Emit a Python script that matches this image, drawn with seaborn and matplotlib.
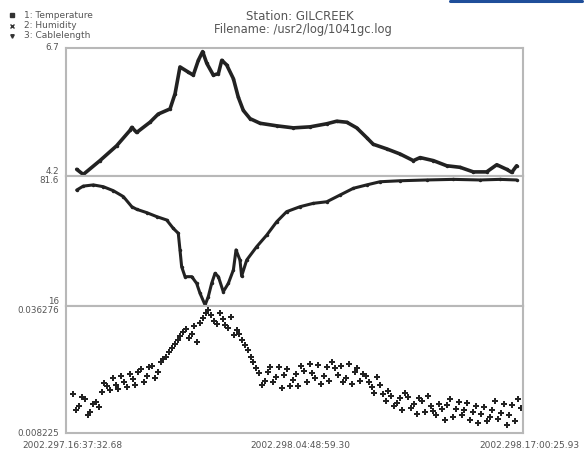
import numpy as np
import pandas as pd
import matplotlib
matplotlib.use('Agg')
import matplotlib.pyplot as plt
import matplotlib.transforms as mtransforms
import seaborn as sns

# -----------------------------
# Data (hours after 2002.297.16:37:32.68)
# -----------------------------

temp_hours = [0.57, 0.92, 1.81, 2.70, 3.41, 3.51, 3.77, 4.48, 4.92, 5.55, 5.82, 6.08,
              6.52, 6.79, 7.06, 7.29, 7.51, 7.86, 8.13, 8.31, 8.57, 8.93, 9.19, 9.46,
              9.82, 10.35, 11.24, 12.13, 13.02, 13.91, 14.44, 14.98, 15.51, 16.04, 16.39,
              17.11, 17.82, 18.53, 18.89, 19.60, 20.31, 21.02, 21.73, 22.44, 22.98,
              23.51, 23.78, 24.04]
temperature = [4.33, 4.23, 4.50, 4.79, 5.09, 5.15, 5.05, 5.25, 5.41, 5.51, 5.81, 6.33,
               6.23, 6.17, 6.46, 6.63, 6.40, 6.17, 6.20, 6.46, 6.37, 6.10, 5.74, 5.48,
               5.32, 5.23, 5.18, 5.14, 5.16, 5.22, 5.27, 5.25, 5.14, 4.95, 4.82,
               4.73, 4.63, 4.50, 4.56, 4.50, 4.40, 4.37, 4.28, 4.28, 4.42,
               4.33, 4.27, 4.40]

hum_hours = [0.57, 0.92, 1.46, 1.99, 2.52, 3.06, 3.51, 3.77, 4.31, 4.84, 5.37, 5.72,
             5.99, 6.08, 6.17, 6.35, 6.71, 6.97, 7.15, 7.42, 7.59, 7.77, 7.95, 8.13,
             8.39, 8.66, 8.93, 9.07, 9.28, 9.37, 9.64, 10.17, 10.71, 11.24, 11.77,
             12.48, 13.19, 13.91, 14.62, 15.33, 16.04, 16.75, 17.82, 19.24, 20.66,
             22.09, 23.15, 24.04]
humidity = [74.5, 76.5, 77.1, 76.2, 74.2, 71.2, 66.1, 64.8, 63.1, 61.1, 59.4, 55.2,
            52.7, 44.3, 35.8, 30.8, 30.8, 27.4, 22.4, 16.5, 20.7, 27.4, 32.5, 30.8,
            23.2, 27.4, 34.2, 44.3, 39.2, 31.1, 39.2, 45.9, 51.8, 58.5, 63.6,
            66.1, 67.8, 68.6, 72.0, 75.4, 77.1, 78.7, 79.2, 79.6, 79.9,
            79.6, 79.9, 79.6]

cable_hours_a = [0.4, 0.7, 1.0, 1.3, 1.6, 1.9, 2.2, 2.5, 2.8, 3.1, 3.4, 3.7, 4.0, 4.3,
                 4.6, 4.9, 5.2, 5.5, 5.8, 6.1, 6.4, 6.7, 7.0, 7.3, 7.6, 7.9, 8.2, 8.5,
                 8.8, 9.1, 9.4, 9.7, 10.0, 10.3, 10.6, 10.9, 11.2, 11.5, 11.8, 12.1,
                 12.4, 12.7, 13.0, 13.3, 13.6, 13.9, 14.2, 14.5, 14.8, 15.1, 15.4, 15.7,
                 16.0, 16.3, 16.6, 16.9, 17.2, 17.5, 17.8, 18.1, 18.4, 18.7, 19.0, 19.3,
                 19.6, 19.9, 20.2, 20.5, 20.8, 21.1, 21.4, 21.7, 22.0, 22.3, 22.6, 22.9,
                 23.2, 23.5, 23.8, 24.1]
cablelength_a = [0.0168, 0.0141, 0.0158, 0.0129, 0.0150, 0.0172, 0.0185, 0.0203, 0.0179,
                 0.0196, 0.0212, 0.0188, 0.0224, 0.0209, 0.0231, 0.0218, 0.0246, 0.0262,
                 0.0279, 0.0297, 0.0312, 0.0301, 0.0284, 0.0336, 0.0355, 0.0330, 0.0347,
                 0.0321, 0.0338, 0.0309, 0.0288, 0.0265, 0.0238, 0.0215, 0.0197, 0.0229,
                 0.0206, 0.0181, 0.0224, 0.0199, 0.0186, 0.0220, 0.0234, 0.0203, 0.0190,
                 0.0228, 0.0239, 0.0211, 0.0196, 0.0235, 0.0218, 0.0197, 0.0209, 0.0183,
                 0.0205, 0.0168, 0.0176, 0.0142, 0.0159, 0.0171, 0.0138, 0.0125, 0.0153,
                 0.0164, 0.0131, 0.0147, 0.0112, 0.0158, 0.0136, 0.0121, 0.0149, 0.0128,
                 0.0105, 0.0139, 0.0118, 0.0152, 0.0127, 0.0099, 0.0143, 0.0158]

cable_hours_b = [0.55, 0.85, 1.15, 1.45, 1.75, 2.05, 2.35, 2.65, 2.95, 3.25, 3.55, 3.85,
                 4.15, 4.45, 4.75, 5.05, 5.35, 5.65, 5.95, 6.25, 6.55, 6.85, 7.15, 7.45,
                 7.75, 8.05, 8.35, 8.65, 8.95, 9.25, 9.55, 9.85, 10.15, 10.45, 10.75,
                 11.05, 11.35, 11.65, 11.95, 12.25, 12.55, 12.85, 13.15, 13.45, 13.75,
                 14.05, 14.35, 14.65, 14.95, 15.25, 15.55, 15.85, 16.15, 16.45, 16.75,
                 17.05, 17.35, 17.65, 17.95, 18.25, 18.55, 18.85, 19.15, 19.45, 19.75,
                 20.05, 20.35, 20.65, 20.95, 21.25, 21.55, 21.85, 22.15, 22.45, 22.75,
                 23.05, 23.35, 23.65, 23.95, 24.25]
cablelength_b = [0.0134, 0.0162, 0.0121, 0.0147, 0.0139, 0.0193, 0.0177, 0.0188, 0.0208,
                 0.0183, 0.0201, 0.0217, 0.0196, 0.0227, 0.0203, 0.0238, 0.0251, 0.0270,
                 0.0288, 0.0305, 0.0292, 0.0318, 0.0326, 0.0348, 0.0342, 0.0323, 0.0335,
                 0.0314, 0.0298, 0.0302, 0.0276, 0.0251, 0.0226, 0.0188, 0.0218, 0.0194,
                 0.0227, 0.0210, 0.0185, 0.0213, 0.0231, 0.0196, 0.0214, 0.0232, 0.0208,
                 0.0197, 0.0226, 0.0231, 0.0204, 0.0190, 0.0226, 0.0212, 0.0194, 0.0171,
                 0.0188, 0.0152, 0.0165, 0.0148, 0.0133, 0.0161, 0.0147, 0.0159, 0.0129,
                 0.0142, 0.0121, 0.0135, 0.0145, 0.0117, 0.0151, 0.0133, 0.0110, 0.0141,
                 0.0124, 0.0108, 0.0133, 0.0114, 0.0146, 0.0122, 0.0109, 0.0137]

x_ticks = [0.0, 12.19, 24.38]
x_labels = ['2002.297.16:37:32.68', '2002.298.04:48:59.30', '2002.298.17:00:25.93']
legend_labels = ['1: Temperature', '2: Humidity', '3: Cablelength']

temp_df = pd.DataFrame({'hours': temp_hours, 'value': temperature})
hum_df = pd.DataFrame({'hours': hum_hours, 'value': humidity})
cable_df = pd.DataFrame({'hours': cable_hours_a + cable_hours_b,
                         'value': cablelength_a + cablelength_b})

# -----------------------------
# Figure
# -----------------------------

sns.set_style('white')
plt.rcParams['font.family'] = ['DejaVu Sans']

fig = plt.figure(figsize=(5.88, 4.53), dpi=100)

W, H = 588, 453
left, right = 66, 523
rows = [(48, 176), (176, 306), (306, 433)]
axes = []
for top, bot in rows:
    ax = fig.add_axes([left / W, 1 - bot / H, (right - left) / W, (bot - top) / H])
    axes.append(ax)

grey = '#b8b8b8'
txt = '#555555'

sns.lineplot(data=temp_df, x='hours', y='value', ax=axes[0], color='#222222',
             linewidth=2.6, marker='o', markersize=2.5, markeredgewidth=0)
sns.lineplot(data=hum_df, x='hours', y='value', ax=axes[1], color='#222222',
             linewidth=2.2, marker='o', markersize=2.5, markeredgewidth=0)
sns.scatterplot(data=cable_df, x='hours', y='value', ax=axes[2], color='#222222',
                marker='P', s=15, linewidth=0)

ylims = [(4.2, 6.7), (16, 81.6), (0.008225, 0.036276)]
ylabels = [('4.2', '6.7'), ('16', '81.6'), ('0.008225', '0.036276')]
valign = [('bottom', 'center'), ('bottom', 'top'), ('center', 'top')]
for ax, lim, lab, va in zip(axes, ylims, ylabels, valign):
    ax.set_xlim(0, 24.38)
    ax.set_ylim(*lim)
    ax.set_yticks(lim)
    ax.set_yticklabels(lab)
    for t, v in zip(ax.get_yticklabels(), va):
        t.set_verticalalignment(v)
    ax.set_xlabel('')
    ax.set_ylabel('')
    for s in ax.spines.values():
        s.set_color(grey)
        s.set_linewidth(1.5)
    ax.tick_params(axis='y', length=3, color=grey, labelsize=6.3, labelcolor=txt, pad=2)
    ax.set_xticks([])

axes[2].set_xticks(x_ticks)
axes[2].set_xticklabels(x_labels)
axes[2].tick_params(axis='x', length=3, color=grey, labelsize=6.5, labelcolor=txt, pad=3)
shift = mtransforms.ScaledTranslation(6 / 100, 0, fig.dpi_scale_trans)
for t in axes[2].get_xticklabels():
    t.set_transform(t.get_transform() + shift)

# -----------------------------
# Title, legend, top bar
# -----------------------------

fig.text(300 / W, 1 - 17 / H, 'Station: GILCREEK', ha='center', va='center',
         fontsize=8.5, color=txt)
fig.text(303 / W, 1 - 29 / H, 'Filename: /usr2/log/1041gc.log', ha='center',
         va='center', fontsize=8.3, color=txt)

markers = ['s', 'x', 'v']
for i, (lab, m) in enumerate(zip(legend_labels, markers)):
    yy = 1 - (15 + 10.5 * i) / H
    fig.lines.append(plt.Line2D([12 / W], [yy], marker=m, markersize=2.5,
                                color='#333333', transform=fig.transFigure))
    fig.text(24 / W, yy, lab, ha='left', va='center', fontsize=6.5, color=txt)

fig.lines.append(plt.Line2D([450 / W, 582 / W], [1 - 1 / H, 1 - 1 / H],
                            color='#1f4e9a', linewidth=2.2, transform=fig.transFigure))

plt.savefig('out.png', dpi=100)
